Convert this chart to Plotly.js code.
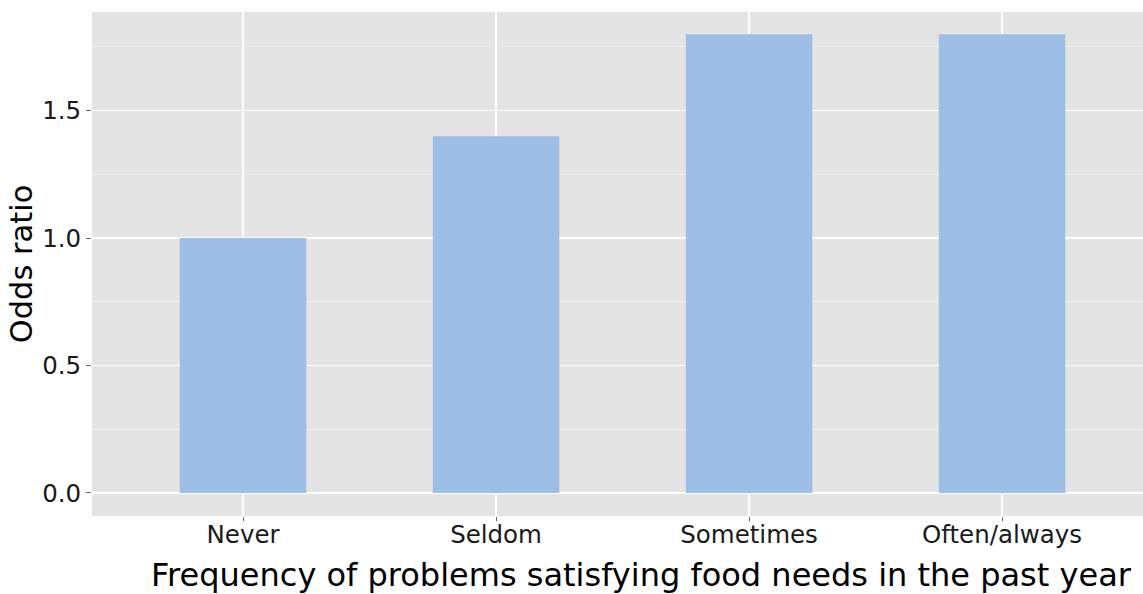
<!DOCTYPE html>
<html>
<head>
<meta charset="utf-8">
<script src="https://cdn.plot.ly/plotly-3.0.1.min.js"></script>
<style>html,body{margin:0;padding:0;background:#fff;overflow:hidden;}</style>
</head>
<body>
<div id="chart" style="width:1143px;height:594px;"></div>
<script>
const categories = ["Never", "Seldom", "Sometimes", "Often/always"];
const oddsRatio = [1.0, 1.4, 1.8, 1.8];
const yTickVals = [0, 0.5, 1.0, 1.5];
const yTickText = ["0.0", "0.5", "1.0", "1.5"];
const xTitle = 'Frequency of problems satisfying food needs in the past year';
const yTitle = 'Odds ratio';

const trace = {
  type: 'bar',
  x: categories,
  y: oddsRatio,
  width: 0.5,
  marker: {color: '#9dbfe5', line: {width: 0}},
  hoverinfo: 'x+y'
};

const FONT = 'DejaVu Sans, Liberation Sans, Arial, sans-serif';

const layout = {
  width: 1143,
  height: 594,
  margin: {l: 92, r: 0, t: 12, b: 78, pad: 0},
  paper_bgcolor: '#ffffff',
  plot_bgcolor: '#e4e4e4',
  showlegend: false,
  font: {family: FONT, color: '#1a1a1a'},
  xaxis: {
    type: 'category',
    range: [-0.597, 3.557],
    showgrid: true,
    gridcolor: '#ffffff',
    gridwidth: 1.2,
    zeroline: false,
    showline: false,
    ticks: 'outside',
    ticklen: 4,
    tickwidth: 1,
    tickcolor: '#666666',
    ticklabelstandoff: -7,
    tickfont: {family: FONT, size: 24.5, color: '#1a1a1a'}
  },
  yaxis: {
    range: [-0.0903, 1.887],
    tickvals: yTickVals,
    ticktext: yTickText,
    showgrid: true,
    gridcolor: '#ffffff',
    gridwidth: 1.2,
    zeroline: false,
    showline: false,
    ticks: 'outside',
    ticklen: 5,
    tickwidth: 1,
    tickcolor: '#666666',
    tickfont: {family: FONT, size: 24.5, color: '#1a1a1a'},
    minor: {tickvals: [0.25, 0.75, 1.25, 1.75], showgrid: true, gridcolor: '#eeeeee', gridwidth: 1, ticks: ''},
    title: {text: yTitle, font: {family: FONT, size: 30.5, color: '#000000'}, standoff: 0}
  },
  annotations: [{
    text: xTitle,
    xref: 'paper', yref: 'paper',
    x: 0.5233, y: 0,
    xanchor: 'center', yanchor: 'middle',
    yshift: -59,
    borderpad: 0,
    showarrow: false,
    font: {family: FONT, size: 32, color: '#000000'}
  }]
};

Plotly.newPlot('chart', [trace], layout, {displayModeBar: false, staticPlot: true});
</script>
</body>
</html>
